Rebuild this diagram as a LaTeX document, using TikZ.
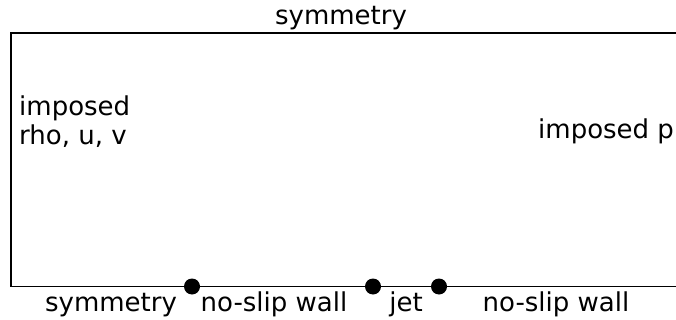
\documentclass[tikz,border=0pt]{standalone}
\usepackage{fontspec}
\setmainfont{DejaVu Sans}
\usepackage{tikz}

\begin{document}
\begin{tikzpicture}[x=1pt, y=-1pt, lbl/.style = {font=\fontsize{26}{29.5}\selectfont, inner sep=0pt}, dot/.style = {shape=circle, fill=black, minimum size=16pt, inner sep=0pt}]
    \useasboundingbox (0,0) rectangle (676,320);
        \coordinate (tl) at (11,33);
        \coordinate (tr) at (677,33);
        \coordinate (bl) at (11,286.5);
        \coordinate (br) at (677,286.5);
        \draw[line width=1.4pt] (tr) -- (tl) -- (bl) -- (br);
        \node[dot] (d1) at (192,286.5) {};
        \node[dot] (d2) at (373,286.5) {};
        \node[dot] (d3) at (439,286.5) {};
        \node[lbl, anchor=base] (top) at (341,25) {symmetry};
        \node[lbl, anchor=base] (sym) at (111,311) {symmetry};
        \node[lbl, anchor=base] (wall1) at (274,311) {no-slip wall};
        \node[lbl, anchor=base] (jet) at (406,311) {jet};
        \node[lbl, anchor=base] (wall2) at (556,311) {no-slip wall};
        \node[lbl, anchor=base west, align=left] (inlet) at (19,145) {imposed\\rho, u, v};
        \node[lbl, anchor=base west] (outlet) at (538,139) {imposed p};
    \end{tikzpicture}
\end{document}
